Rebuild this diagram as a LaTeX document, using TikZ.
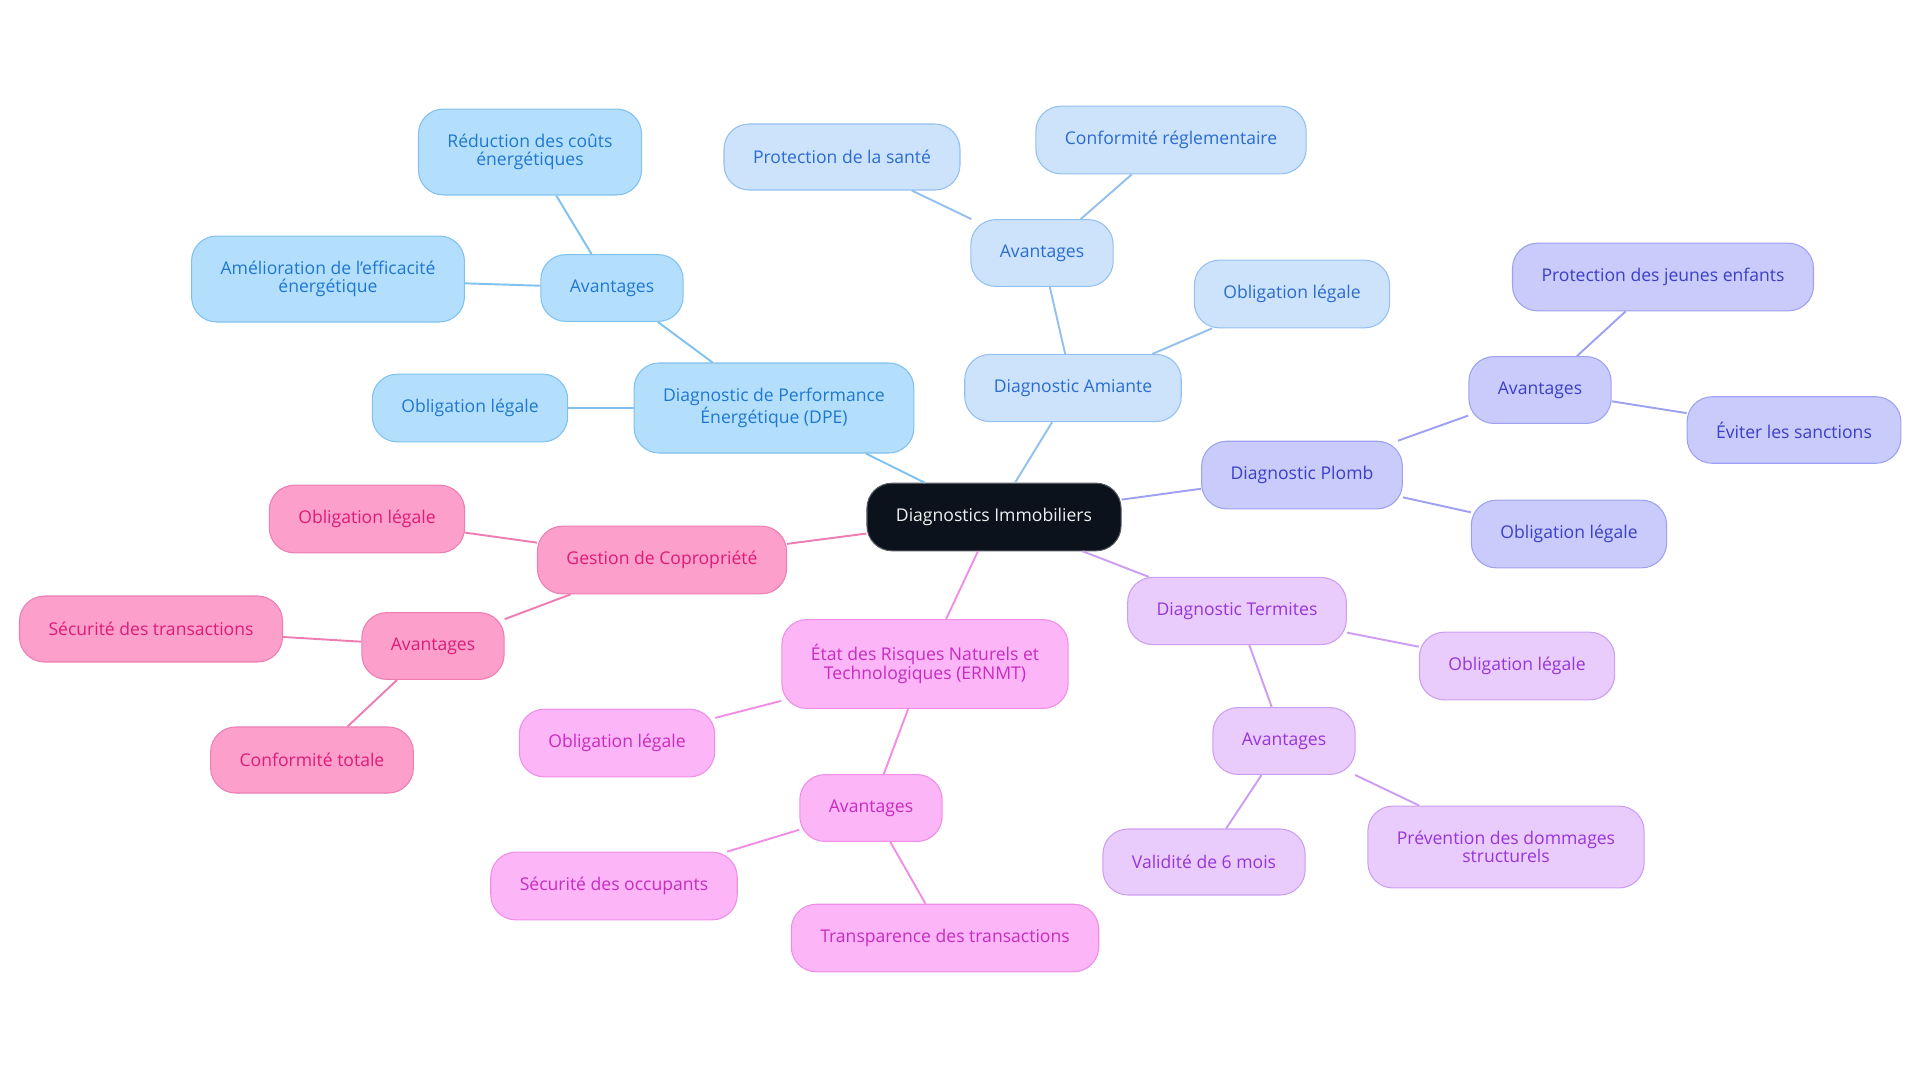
\documentclass[tikz,border=0pt]{standalone}
\usepackage{fontspec}
\setmainfont{Open Sans}
\usepackage{xcolor}
\usetikzlibrary{arrows.meta}

\definecolor{rootFill}{HTML}{0C121C}
\definecolor{dpeFill}{HTML}{B4DFFC}
\definecolor{dpeLine}{HTML}{7FC1F0}
\definecolor{dpeText}{HTML}{1F77D0}
\definecolor{amiFill}{HTML}{CDE2FB}
\definecolor{amiLine}{HTML}{94C0EF}
\definecolor{amiText}{HTML}{2B6CCF}
\definecolor{plombFill}{HTML}{C9CBFB}
\definecolor{plombLine}{HTML}{9EA1F2}
\definecolor{plombText}{HTML}{3C3FC5}
\definecolor{termFill}{HTML}{E9CCFB}
\definecolor{termLine}{HTML}{CC9EF2}
\definecolor{termText}{HTML}{9635D9}
\definecolor{ernFill}{HTML}{FCB5F6}
\definecolor{ernLine}{HTML}{F08EE6}
\definecolor{ernText}{HTML}{C72CC0}
\definecolor{gestFill}{HTML}{FC9FCB}
\definecolor{gestLine}{HTML}{EE7DB2}
\definecolor{gestText}{HTML}{DE1B78}

\begin{document}
\begin{tikzpicture}[
    x=0.02cm, y=-0.02cm,
    box/.style={rounded corners=0.5cm, line width=0.6pt, inner xsep=0.58cm,
        inner ysep=0.5cm, minimum height=1.32cm, align=center,
        font=\fontsize{10}{10.4}\selectfont},
    link/.style={line width=1.1pt},
    rootbox/.style={box, fill=rootFill, draw=rootFill!70!white, text=white!94!black},
    dpebox/.style={box, fill=dpeFill, draw=dpeLine, text=dpeText},
    amibox/.style={box, fill=amiFill, draw=amiLine, text=amiText},
    plombbox/.style={box, fill=plombFill, draw=plombLine, text=plombText},
    termbox/.style={box, fill=termFill, draw=termLine, text=termText},
    ernbox/.style={box, fill=ernFill, draw=ernLine, text=ernText},
    gestbox/.style={box, fill=gestFill, draw=gestLine, text=gestText},
]

\useasboundingbox (0,0) rectangle (1920,1083);

%--- Root ---
\node[rootbox] (root) at (994,517) {Diagnostics Immobiliers};

%--- DPE branch ---
\node[dpebox] (dpe) at (774,408) {Diagnostic de Performance\\Énergétique (DPE)};
\node[dpebox] (dpeAv) at (612,288) {Avantages};
\node[dpebox] (dpeRed) at (530,152) {Réduction des coûts\\énergétiques};
\node[dpebox] (dpeAme) at (328,279) {Amélioration de l'efficacité\\énergétique};
\node[dpebox] (dpeObl) at (470,408) {Obligation légale};

%--- Amiante branch ---
\node[amibox] (ami) at (1073,388) {Diagnostic Amiante};
\node[amibox] (amiAv) at (1042,253) {Avantages};
\node[amibox] (amiProt) at (842,157) {Protection de la santé};
\node[amibox] (amiConf) at (1171,140) {Conformité réglementaire};
\node[amibox] (amiObl) at (1292,294) {Obligation légale};

%--- Plomb branch ---
\node[plombbox] (plomb) at (1302,475) {Diagnostic Plomb};
\node[plombbox] (plombAv) at (1540,390) {Avantages};
\node[plombbox] (plombProt) at (1663,277) {Protection des jeunes enfants};
\node[plombbox] (plombEvit) at (1794,430) {Éviter les sanctions};
\node[plombbox] (plombObl) at (1569,534) {Obligation légale};

%--- Termites branch ---
\node[termbox] (term) at (1237,611) {Diagnostic Termites};
\node[termbox] (termObl) at (1517,666) {Obligation légale};
\node[termbox] (termAv) at (1284,741) {Avantages};
\node[termbox] (termVal) at (1204,862) {Validité de 6 mois};
\node[termbox] (termPrev) at (1506,847) {Prévention des dommages\\structurels};

%--- ERNMT branch ---
\node[ernbox] (ern) at (925,664) {État des Risques Naturels et\\Technologiques (ERNMT)};
\node[ernbox] (ernObl) at (617,743) {Obligation légale};
\node[ernbox] (ernAv) at (871,808) {Avantages};
\node[ernbox] (ernSec) at (614,886) {Sécurité des occupants};
\node[ernbox] (ernTrans) at (945,938) {Transparence des transactions};

%--- Copropriete branch ---
\node[gestbox] (gest) at (662,560) {Gestion de Copropriété};
\node[gestbox] (gestObl) at (367,519) {Obligation légale};
\node[gestbox] (gestAv) at (433,646) {Avantages};
\node[gestbox] (gestSec) at (151,629) {Sécurité des transactions};
\node[gestbox] (gestConf) at (312,760) {Conformité totale};

%--- Links ---
\draw[link, dpeLine] (root) -- (dpe);
\draw[link, dpeLine] (dpe) -- (dpeAv);
\draw[link, dpeLine] (dpeAv) -- (dpeRed);
\draw[link, dpeLine] (dpeAv) -- (dpeAme);
\draw[link, dpeLine] (dpe) -- (dpeObl);

\draw[link, amiLine] (root) -- (ami);
\draw[link, amiLine] (ami) -- (amiAv);
\draw[link, amiLine] (amiAv) -- (amiProt);
\draw[link, amiLine] (amiAv) -- (amiConf);
\draw[link, amiLine] (ami) -- (amiObl);

\draw[link, plombLine] (root) -- (plomb);
\draw[link, plombLine] (plomb) -- (plombAv);
\draw[link, plombLine] (plombAv) -- (plombProt);
\draw[link, plombLine] (plombAv) -- (plombEvit);
\draw[link, plombLine] (plomb) -- (plombObl);

\draw[link, termLine] (root) -- (term);
\draw[link, termLine] (term) -- (termObl);
\draw[link, termLine] (term) -- (termAv);
\draw[link, termLine] (termAv) -- (termVal);
\draw[link, termLine] (termAv) -- (termPrev);

\draw[link, ernLine] (root) -- (ern);
\draw[link, ernLine] (ern) -- (ernObl);
\draw[link, ernLine] (ern) -- (ernAv);
\draw[link, ernLine] (ernAv) -- (ernSec);
\draw[link, ernLine] (ernAv) -- (ernTrans);

\draw[link, gestLine] (root) -- (gest);
\draw[link, gestLine] (gest) -- (gestObl);
\draw[link, gestLine] (gest) -- (gestAv);
\draw[link, gestLine] (gestAv) -- (gestSec);
\draw[link, gestLine] (gestAv) -- (gestConf);

\end{tikzpicture}
\end{document}
